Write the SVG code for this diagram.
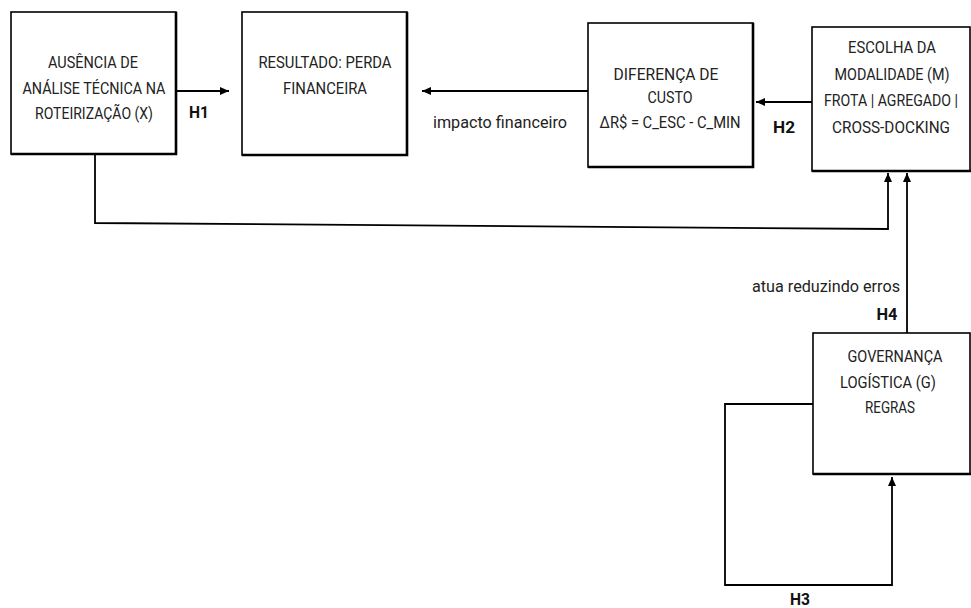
<svg xmlns="http://www.w3.org/2000/svg" width="971" height="608" viewBox="0 0 971 608">
<style>
.box{fill:#fff;stroke:#000;stroke-width:1.6}
.shadow{fill:none;stroke:#000;stroke-width:2.6}
.t{font-family:Roboto,"Liberation Sans",sans-serif;font-size:17px;fill:#222;text-anchor:middle}
.b{font-family:Roboto,"Liberation Sans",sans-serif;font-size:16px;font-weight:bold;fill:#111;text-anchor:middle}
.c{fill:none;stroke:#000;stroke-width:1.8}
</style>
<defs>
<marker id="ah" markerWidth="10" markerHeight="8" refX="9" refY="4" orient="auto" markerUnits="userSpaceOnUse">
<path d="M0,0 L9,4 L0,8 Z" fill="#000"/>
</marker>
</defs>
<rect width="971" height="608" fill="#fff"/>
<g id="connectors">
<line class="c" x1="176" y1="91" x2="229" y2="91" marker-end="url(#ah)"/>
<line class="c" x1="588" y1="91" x2="422" y2="91" marker-end="url(#ah)"/>
<line class="c" x1="812" y1="102" x2="756" y2="102" marker-end="url(#ah)"/>
<polyline class="c" points="95,155 95,223 888,229 888,173" stroke-width="2.4" marker-end="url(#ah)"/>
<line class="c" x1="907" y1="333" x2="907" y2="173" marker-end="url(#ah)"/>
<polyline class="c" points="813,404 725,404 725,585 892,585 892,477" marker-end="url(#ah)"/>
<text class="b" x="199" y="118" textLength="20" lengthAdjust="spacingAndGlyphs">H1</text>
<text class="t" x="500" y="128" textLength="134" lengthAdjust="spacingAndGlyphs">impacto financeiro</text>
<text class="b" x="784" y="133" textLength="22" lengthAdjust="spacingAndGlyphs">H2</text>
<text class="t" x="826" y="292" textLength="148" lengthAdjust="spacingAndGlyphs">atua reduzindo erros</text>
<text class="b" x="887" y="320" textLength="21" lengthAdjust="spacingAndGlyphs">H4</text>
<text class="b" x="800" y="605" textLength="20" lengthAdjust="spacingAndGlyphs">H3</text>
</g>
<g id="node-ausencia">
<rect class="box" x="11" y="12" width="165" height="142"/>
<path class="shadow" d="M11,154 H176 V12"/>
<text class="t" x="93" y="68" textLength="90" lengthAdjust="spacingAndGlyphs">AUSÊNCIA DE</text>
<text class="t" x="94" y="94" textLength="143" lengthAdjust="spacingAndGlyphs">ANÁLISE TÉCNICA NA</text>
<text class="t" x="94" y="119" textLength="118" lengthAdjust="spacingAndGlyphs">ROTEIRIZAÇÃO (X)</text>
</g>
<g id="node-resultado">
<rect class="box" x="242" y="12" width="165" height="143"/>
<path class="shadow" d="M242,155 H407 V12"/>
<text class="t" x="325" y="68" textLength="133" lengthAdjust="spacingAndGlyphs">RESULTADO: PERDA</text>
<text class="t" x="325" y="94" textLength="84" lengthAdjust="spacingAndGlyphs">FINANCEIRA</text>
</g>
<g id="node-diferenca">
<rect class="box" x="588" y="23" width="165" height="144"/>
<path class="shadow" d="M588,167 H753 V23"/>
<text class="t" x="666" y="80" textLength="105" lengthAdjust="spacingAndGlyphs">DIFERENÇA DE</text>
<text class="t" x="670" y="103" textLength="45" lengthAdjust="spacingAndGlyphs">CUSTO</text>
<text class="t" x="670" y="128" textLength="141" lengthAdjust="spacingAndGlyphs">ΔR$ = C_ESC - C_MIN</text>
</g>
<g id="node-escolha">
<rect class="box" x="812" y="27" width="158" height="144"/>
<path class="shadow" d="M812,171 H971"/>
<text class="t" x="892" y="53" textLength="88" lengthAdjust="spacingAndGlyphs">ESCOLHA DA</text>
<text class="t" x="892" y="80" textLength="115" lengthAdjust="spacingAndGlyphs">MODALIDADE (M)</text>
<text class="t" x="891" y="106" textLength="134" lengthAdjust="spacingAndGlyphs">FROTA | AGREGADO |</text>
<text class="t" x="891" y="133" textLength="118" lengthAdjust="spacingAndGlyphs">CROSS-DOCKING</text>
</g>
<g id="node-governanca">
<rect class="box" x="813" y="333" width="157" height="141"/>
<path class="shadow" d="M813,474 H971"/>
<text class="t" x="895" y="362" textLength="95" lengthAdjust="spacingAndGlyphs">GOVERNANÇA</text>
<text class="t" x="888" y="388" textLength="96" lengthAdjust="spacingAndGlyphs">LOGÍSTICA (G)</text>
<text class="t" x="890" y="413" textLength="50" lengthAdjust="spacingAndGlyphs">REGRAS</text>
</g>
</svg>
